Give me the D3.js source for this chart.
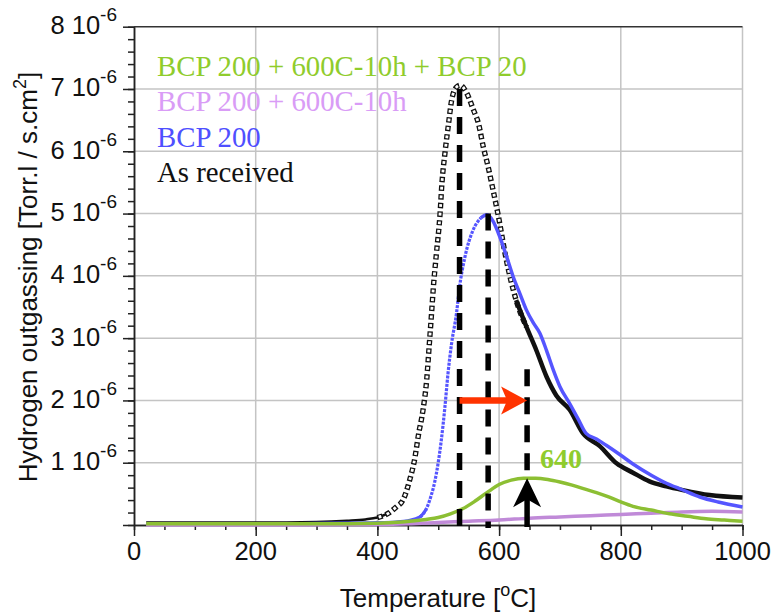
<!DOCTYPE html>
<html>
<head>
<meta charset="utf-8">
<script src="https://cdn.jsdelivr.net/npm/d3@7"></script>
<style>
  body { margin: 0; background: #fff; }
  text { font-family: "Liberation Sans", Arial, sans-serif; }
  .legend { font-family: "Liberation Serif", "Times New Roman", serif; }
</style>
</head>
<body>
<div id="chart"></div>
<script>
/* Data: outgassing in units of 1e-6 Torr.l / s.cm2 */
const asReceivedT = [20, 100, 200, 300, 350, 380, 400, 420, 431, 442, 453, 462, 467, 475, 481, 485, 489, 492, 497, 503,
  506, 511, 517, 522, 530, 536, 547, 558, 566, 574, 582, 590, 598, 612, 628, 645, 661, 678, 694, 716,
  738, 765, 793, 820, 847, 875, 902, 946, 1000];
const asReceivedV = [0.04, 0.04, 0.04, 0.05, 0.07, 0.09, 0.12, 0.2, 0.29, 0.40, 0.72, 1.10, 1.42, 1.85, 2.33, 2.86, 3.40, 3.82, 4.36, 5.0,
  5.48, 5.97, 6.45, 6.82, 7.03, 7.06, 6.93, 6.66, 6.45, 6.07, 5.75, 5.38, 5.0, 4.25, 3.61, 3.18, 2.81, 2.38, 2.08, 1.85,
  1.47, 1.27, 0.99, 0.84, 0.70, 0.62, 0.56, 0.48, 0.44];

const bcpT = [20, 200, 300, 400, 430, 450, 470, 480, 486, 497, 505, 511, 516, 522, 530, 535, 544, 557, 570, 580,
  590, 601, 612, 623, 634, 645, 656, 667, 678, 689, 700, 716, 730, 743, 760, 776, 800, 820, 850, 875,
  900, 930, 960, 1000];
const bcpV = [0.02, 0.02, 0.03, 0.04, 0.05, 0.07, 0.13, 0.25, 0.40, 0.83, 1.36, 1.90, 2.43, 2.92, 3.40, 3.82, 4.31, 4.73, 4.93, 4.98,
  4.88, 4.63, 4.32, 3.99, 3.72, 3.45, 3.25, 3.08, 2.80, 2.49, 2.22, 1.95, 1.70, 1.47, 1.38, 1.28, 1.12, 0.98, 0.80, 0.67,
  0.57, 0.45, 0.37, 0.29];

const bakedT = [20, 200, 400, 450, 500, 550, 600, 650, 700, 750, 800, 850, 900, 950, 1000];
const bakedV = [0.0, 0.0, 0.01, 0.02, 0.04, 0.06, 0.08, 0.11, 0.13, 0.15, 0.17, 0.19, 0.21, 0.22, 0.21];

const bakedBcpT = [20, 100, 200, 300, 400, 440, 480, 500, 520, 540, 560, 580, 600, 620, 640, 660, 680, 700, 720, 740,
  760, 780, 800, 820, 850, 880, 910, 940, 970, 1000];
const bakedBcpV = [0.02, 0.02, 0.02, 0.02, 0.03, 0.05, 0.09, 0.12, 0.18, 0.26, 0.38, 0.52, 0.65, 0.72, 0.75, 0.75, 0.73, 0.69, 0.64, 0.58,
  0.52, 0.45, 0.37, 0.30, 0.24, 0.18, 0.14, 0.10, 0.08, 0.06];

// peak markers (dashed verticals) and shift arrow
const peakT = [535, 582, 646];
const peakTop = [7.0, 5.0, 2.5];
const shiftFrom = 535, shiftTo = 646, shiftLevel = 2.0;
const greenPeakT = 646, greenPeakV = 0.75, greenPeakLabel = "640";

const legendNames = ["BCP 200 + 600C-10h + BCP 20", "BCP 200 + 600C-10h", "BCP 200", "As received"];
const legendColors = ["#8fcc2c", "#d99cf6", "#4f4fff", "#111"];

const xTicks = [0, 200, 400, 600, 800, 1000];
const yTicks = [1, 2, 3, 4, 5, 6, 7, 8];

/* Layout */
const W = 772, H = 613;
const plot = { left: 134, right: 742.5, top: 26.7, bottom: 525 };

const svg = d3.select("#chart").append("svg")
  .attr("width", W).attr("height", H);

const x = d3.scaleLinear().domain([0, 1000]).range([plot.left, plot.right]);
const y = d3.scaleLinear().domain([0, 8]).range([plot.bottom, plot.top]);

function zip(ts, vs) { return ts.map((t, i) => ({ t: t, v: vs[i] })); }

const line = d3.line().x(d => x(d.t)).y(d => y(d.v)).curve(d3.curveMonotoneX);

/* Grid */
const grid = svg.append("g").attr("stroke", "#c4c4c4").attr("stroke-width", 1.5);
yTicks.slice(0, -1).forEach(v => {
  grid.append("line").attr("x1", plot.left).attr("x2", plot.right)
    .attr("y1", y(v)).attr("y2", y(v));
});
xTicks.slice(1).forEach(t => {
  grid.append("line").attr("x1", x(t)).attr("x2", x(t))
    .attr("y1", plot.top).attr("y2", plot.bottom);
});
svg.append("line").attr("x1", plot.left).attr("x2", plot.right)
  .attr("y1", y(8)).attr("y2", y(8))
  .attr("stroke", "#333").attr("stroke-width", 1.5);

/* Axes */
const axisStyle = g => {
  g.selectAll("path, line").attr("stroke", "#222").attr("stroke-width", 1.5);
  g.selectAll("text").remove();
};
svg.append("g").attr("transform", `translate(${plot.left},0)`)
  .call(d3.axisLeft(y).tickValues(d3.range(0, 8.01, 0.2)).tickSize(6).tickSizeOuter(0).tickFormat(""))
  .call(axisStyle);
svg.append("g").attr("transform", `translate(${plot.left},0)`)
  .call(d3.axisLeft(y).tickValues([0].concat(yTicks)).tickSize(11).tickSizeOuter(0).tickFormat(""))
  .call(axisStyle);
svg.append("g").attr("transform", `translate(0,${plot.bottom})`)
  .call(d3.axisBottom(x).tickValues(d3.range(0, 1001, 50)).tickSize(5).tickSizeOuter(0).tickFormat(""))
  .call(axisStyle);
svg.append("g").attr("transform", `translate(0,${plot.bottom})`)
  .call(d3.axisBottom(x).tickValues(xTicks).tickSize(11).tickSizeOuter(0).tickFormat(""))
  .call(axisStyle);

// y tick labels "n 10^-6"
yTicks.forEach(v => {
  const t = svg.append("text")
    .attr("x", 117).attr("y", y(v) + 7.5)
    .attr("text-anchor", "end").attr("font-size", 25.5).attr("fill", "#111");
  t.append("tspan").text(v + " 10");
  t.append("tspan").attr("dy", -13).attr("font-size", 19).text("-6");
});
// x tick labels
xTicks.forEach(t => {
  svg.append("text").attr("x", x(t)).attr("y", 560)
    .attr("text-anchor", "middle").attr("font-size", 25.5).attr("fill", "#111")
    .text(t);
});

// axis titles
const xt = svg.append("text").attr("x", 438).attr("y", 607)
  .attr("text-anchor", "middle").attr("font-size", 26).attr("fill", "#111");
xt.append("tspan").text("Temperature [");
xt.append("tspan").attr("dy", -11).attr("font-size", 18).text("o");
xt.append("tspan").attr("dy", 11).text("C]");

const yt = svg.append("text")
  .attr("transform", "translate(37,277) rotate(-90)")
  .attr("text-anchor", "middle").attr("font-size", 26).attr("fill", "#111");
yt.append("tspan").text("Hydrogen outgassing [Torr.l / s.cm");
yt.append("tspan").attr("dy", -11).attr("font-size", 18).text("2");
yt.append("tspan").attr("dy", 11).text("]");

/* Curves */
const curves = svg.append("g").attr("fill", "none").attr("stroke-linejoin", "round");

// As received: dark base, hollow squares along the peak, thick tail
const black = zip(asReceivedT, asReceivedV);
curves.append("path").datum(black.filter(d => d.t <= 420))
  .attr("d", line).attr("stroke", "#111").attr("stroke-width", 2.5);
const blackMid = black.filter(d => d.t >= 400 && d.t <= 645);
curves.append("path").datum(blackMid).attr("d", line)
  .attr("stroke", "#111").attr("stroke-width", 5.4).attr("stroke-dasharray", "5.4,3.2");
curves.append("path").datum(blackMid).attr("d", line)
  .attr("stroke", "#fff").attr("stroke-width", 2.8)
  .attr("stroke-dasharray", "2.8,5.8").attr("stroke-dashoffset", -1.3);
curves.append("path").datum(black.filter(d => d.t >= 628))
  .attr("d", line).attr("stroke", "#111").attr("stroke-width", 4.5);

// BCP 200: dotted rise, solid tail
const blue = zip(bcpT, bcpV);
curves.append("path").datum(blue.filter(d => d.t <= 480))
  .attr("d", line).attr("stroke", "#5555ff").attr("stroke-width", 3);
curves.append("path").datum(blue.filter(d => d.t >= 470 && d.t <= 575))
  .attr("d", line).attr("stroke", "#5555ff").attr("stroke-width", 3.2)
  .attr("stroke-dasharray", "3,1.2");
curves.append("path").datum(blue.filter(d => d.t >= 570))
  .attr("d", line).attr("stroke", "#5555ff").attr("stroke-width", 3.5);

curves.append("path").datum(zip(bakedT, bakedV))
  .attr("d", line).attr("stroke", "#c08ad8").attr("stroke-width", 3.5);
curves.append("path").datum(zip(bakedBcpT, bakedBcpV))
  .attr("d", line).attr("stroke", "#8cbf33").attr("stroke-width", 3.5);

/* Annotations */
const ann = svg.append("g");
peakT.forEach((t, i) => {
  const bottom = i === 2 ? greenPeakV : 0;
  ann.append("line")
    .attr("x1", x(t)).attr("x2", x(t))
    .attr("y1", y(peakTop[i])).attr("y2", y(bottom) + 3)
    .attr("stroke", "#000").attr("stroke-width", 5.5)
    .attr("stroke-dasharray", "17,11");
});
// solid shaft and up arrow to the green peak
ann.append("line")
  .attr("x1", x(greenPeakT)).attr("x2", x(greenPeakT))
  .attr("y1", y(greenPeakV) + 20).attr("y2", y(0) + 2)
  .attr("stroke", "#000").attr("stroke-width", 5.5);
const tipX = x(greenPeakT), tipY = y(greenPeakV);
ann.append("path")
  .attr("d", `M${tipX},${tipY} L${tipX + 14},${tipY + 29} L${tipX},${tipY + 21} L${tipX - 14},${tipY + 29} Z`)
  .attr("fill", "#000");

// red shift arrow
const rx0 = x(shiftFrom), rx1 = x(shiftTo), ry = y(shiftLevel);
ann.append("line")
  .attr("x1", rx0).attr("x2", rx1 - 20).attr("y1", ry).attr("y2", ry)
  .attr("stroke", "#ff3300").attr("stroke-width", 6.5);
ann.append("path")
  .attr("d", `M${rx1},${ry} L${rx1 - 26},${ry - 14} L${rx1 - 20},${ry} L${rx1 - 26},${ry + 14} Z`)
  .attr("fill", "#ff3300");

svg.append("text").attr("class", "legend")
  .attr("x", x(greenPeakT) + 13).attr("y", y(greenPeakV) - 10)
  .attr("font-size", 28).attr("font-weight", "bold").attr("fill", "#8fcc2c")
  .text(greenPeakLabel);

/* Legend */
legendNames.forEach((name, i) => {
  svg.append("text").attr("class", "legend")
    .attr("x", 157).attr("y", 76 + i * 35.3)
    .attr("font-size", 28.8).attr("fill", legendColors[i])
    .text(name);
});
</script>
</body>
</html>
